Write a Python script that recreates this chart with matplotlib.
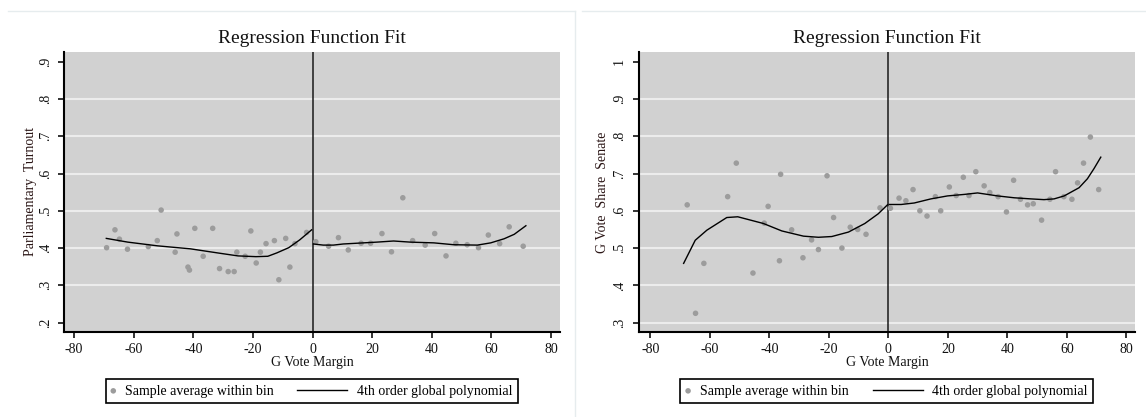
import numpy as np
import matplotlib
matplotlib.use('Agg')
import matplotlib.pyplot as plt
from matplotlib.lines import Line2D
from matplotlib.legend_handler import HandlerLine2D

plt.rcParams['font.family'] = ['Liberation Serif', 'DejaVu Serif']
plt.rcParams['font.size'] = 10
plt.rcParams['axes.unicode_minus'] = False

# --- binned sample averages and fitted curves ---
turn_bin_x = [-69.1, -66.3, -64.8, -62.1, -55.1, -52.1, -50.8, -46.1, -45.5, -41.8,
              -41.3, -39.5, -36.7, -33.5, -31.2, -28.3, -26.3, -25.4, -22.6, -20.7,
              -18.9, -17.5, -15.6, -12.8, -11.3, -9.0, -7.6, -5.9, -2.0,
              1.1, 5.4, 8.7, 12.0, 16.3, 19.5, 23.3, 26.5, 30.3, 33.6,
              37.8, 41.0, 44.8, 48.1, 51.9, 55.7, 59.0, 62.8, 66.0, 70.7]
turn_bin_y = [0.401, 0.449, 0.424, 0.397, 0.404, 0.420, 0.502, 0.389, 0.438, 0.349,
              0.341, 0.453, 0.378, 0.453, 0.345, 0.337, 0.337, 0.389, 0.378, 0.446,
              0.360, 0.389, 0.412, 0.420, 0.315, 0.426, 0.349, 0.412, 0.442,
              0.417, 0.405, 0.428, 0.395, 0.413, 0.413, 0.439, 0.390, 0.535, 0.420,
              0.408, 0.439, 0.379, 0.413, 0.409, 0.401, 0.435, 0.412, 0.457, 0.405]
turn_fit_lx = [-69.2, -62, -52, -41, -31, -25, -19, -15, -12, -8, -4.3, -0.3]
turn_fit_ly = [0.426, 0.416, 0.406, 0.398, 0.386, 0.379, 0.377, 0.378, 0.387, 0.401, 0.422, 0.449]
turn_fit_rx = [0.3, 3.6, 7.0, 10.3, 21.6, 27.2, 32.8, 40.7, 47.4, 55.3, 59.8, 64.3, 67.7, 71.6]
turn_fit_ry = [0.411, 0.408, 0.408, 0.411, 0.416, 0.419, 0.416, 0.414, 0.409, 0.408, 0.414, 0.425, 0.437, 0.460]

sen_bin_x = [-67.6, -64.8, -62.0, -54.0, -51.1, -45.5, -41.7, -40.4, -36.6, -36.2,
             -32.5, -28.7, -25.8, -23.5, -20.6, -18.4, -15.6, -12.8, -10.3, -7.5, -2.8,
             0.7, 3.6, 5.9, 8.3, 10.6, 13.0, 15.8, 17.6, 20.5, 22.8, 25.2, 27.1, 29.4,
             32.2, 34.1, 36.9, 39.7, 42.1, 44.4, 46.8, 48.7, 51.5, 54.3, 56.2, 59.0,
             61.7, 63.6, 65.6, 67.9, 70.7]
sen_bin_y = [0.616, 0.325, 0.459, 0.638, 0.728, 0.433, 0.567, 0.612, 0.466, 0.698,
             0.549, 0.474, 0.522, 0.496, 0.694, 0.582, 0.500, 0.556, 0.550, 0.537, 0.608,
             0.607, 0.634, 0.627, 0.657, 0.600, 0.586, 0.638, 0.600, 0.664, 0.641, 0.690,
             0.641, 0.705, 0.667, 0.649, 0.638, 0.597, 0.682, 0.631, 0.616, 0.619, 0.575,
             0.631, 0.705, 0.638, 0.631, 0.675, 0.728, 0.798, 0.657]
sen_fit_lx = [-68.8, -64.9, -61.0, -54.3, -50.6, -42.0, -35.8, -28.5, -23.5, -19.0, -13.4, -7.9, -3.4, -0.3]
sen_fit_ly = [0.459, 0.521, 0.548, 0.582, 0.584, 0.566, 0.546, 0.532, 0.529, 0.531, 0.543, 0.566, 0.592, 0.616]
sen_fit_rx = [0.3, 4.3, 8.7, 14.3, 19.9, 25.5, 30.0, 36.7, 42.3, 47.9, 52.3, 55.7, 59.1, 64.1, 66.9, 69.1, 71.4]
sen_fit_ry = [0.617, 0.617, 0.621, 0.632, 0.640, 0.644, 0.648, 0.640, 0.635, 0.632, 0.630, 0.632, 0.640, 0.662, 0.686, 0.713, 0.744]

x_ticks = [-80, -60, -40, -20, 0, 20, 40, 60, 80]
turn_ticks = [0.2, 0.3, 0.4, 0.5, 0.6, 0.7, 0.8, 0.9]
turn_grid = [0.3, 0.4, 0.5, 0.6, 0.7, 0.8]
sen_ticks = [0.3, 0.4, 0.5, 0.6, 0.7, 0.8, 0.9, 1.0]
sen_grid = [0.3, 0.4, 0.5, 0.6, 0.7, 0.8, 0.9]


def tick_fmt(v):
    s = ('%g' % v)
    return s[1:] if s.startswith('0.') else s


class LongLine(HandlerLine2D):
    # legend line that reaches further left than the (short) handle box
    def create_artists(self, legend, orig_handle, xdescent, ydescent, width, height, fontsize, trans):
        y = height / 2 - ydescent
        ln = Line2D([-xdescent - 3.3 * fontsize, -xdescent + width], [y, y], color='black', lw=1.0)
        ln.set_transform(trans)
        return [ln]


W, H = 1146, 417
fig = plt.figure(figsize=(W / 100, H / 100), dpi=100)
fig.patch.set_facecolor('white')


def panel(rect, bx, by, flx, fly, frx, fry, yticks, grid, ylim, xlim, ylabel, ylab_x):
    ax = fig.add_axes(rect)
    ax.set_facecolor('#d1d1d1')
    ax.set_xlim(*xlim)
    ax.set_ylim(*ylim)
    for t in grid:
        ax.axhline(t, color='#ececec', lw=1.5, zorder=1)
    ax.axvline(0, color='#1a1a1a', lw=1.1, zorder=2)
    sc = ax.scatter(bx, by, s=16, color='#9c9c9c', edgecolors='none', zorder=3,
                    label='Sample average within bin')
    ln, = ax.plot(flx, fly, color='black', lw=1.0, zorder=4, label='4th order global polynomial')
    ax.plot(frx, fry, color='black', lw=1.0, zorder=4)
    for side in ['top', 'right']:
        ax.spines[side].set_visible(False)
    for side in ['left', 'bottom']:
        ax.spines[side].set_linewidth(1.5)
    ax.set_xticks(x_ticks)
    ax.set_yticks(yticks)
    ax.set_yticklabels([tick_fmt(v) for v in yticks], rotation=90, va='center')
    ax.tick_params(length=4, width=1.2, pad=4, colors='#111111', labelsize=10)
    ax.tick_params(axis='y', pad=5)
    ax.set_title('Regression Function Fit', fontsize=14, pad=6.5, color='#111111')
    ax.set_xlabel('G Vote Margin', fontsize=10, color='#111111')
    ax.xaxis.set_label_coords(0.5, -0.083)
    ax.set_ylabel(ylabel, fontsize=10, color='#2a1515')
    ax.yaxis.set_label_coords(ylab_x, 0.5)
    return ax, sc, ln


ax1, sc1, ln1 = panel([64.3 / W, 1 - 332.3 / H, 495.7 / W, 280.6 / H],
                      turn_bin_x, turn_bin_y, turn_fit_lx, turn_fit_ly, turn_fit_rx, turn_fit_ry,
                      turn_ticks, turn_grid, (0.174, 0.927), (-83.3, 83.05),
                      'Parliamentary  Turnout', -0.056)
ax2, sc2, ln2 = panel([638.7 / W, 1 - 332.3 / H, 496.6 / W, 280.6 / H],
                      sen_bin_x, sen_bin_y, sen_fit_lx, sen_fit_ly, sen_fit_rx, sen_fit_ry,
                      sen_ticks, sen_grid, (0.274, 1.027), (-83.9, 83.0),
                      'G Vote  Share  Senate', -0.059)

for ax, sc, ln, (x0, x1) in [(ax1, sc1, ln1, (98.7, 525)), (ax2, sc2, ln2, (673.5, 1100.4))]:
    leg = ax.legend([sc, ln], ['Sample average within bin', '4th order global polynomial'],
                    ncol=2, mode='expand', loc='center',
                    bbox_to_anchor=(x0 / W, 1 - 404 / H, (x1 - x0) / W, 26 / H),
                    bbox_transform=fig.transFigure, handlelength=0.3, handletextpad=0.7,
                    borderpad=0.4, fancybox=False, framealpha=1, edgecolor='black',
                    scatterpoints=1, handler_map={ln: LongLine()})
    leg.get_frame().set_linewidth(1.2)

# light panel separators
fig.add_artist(Line2D([8 / W, 575 / W], [1 - 11 / H, 1 - 11 / H], color='#e6ecee', lw=1))
fig.add_artist(Line2D([582 / W, 1], [1 - 11 / H, 1 - 11 / H], color='#e6ecee', lw=1))
fig.add_artist(Line2D([575 / W, 575 / W], [0, 1 - 11 / H], color='#e6ecee', lw=1))

fig.savefig('out.png', dpi=100)
